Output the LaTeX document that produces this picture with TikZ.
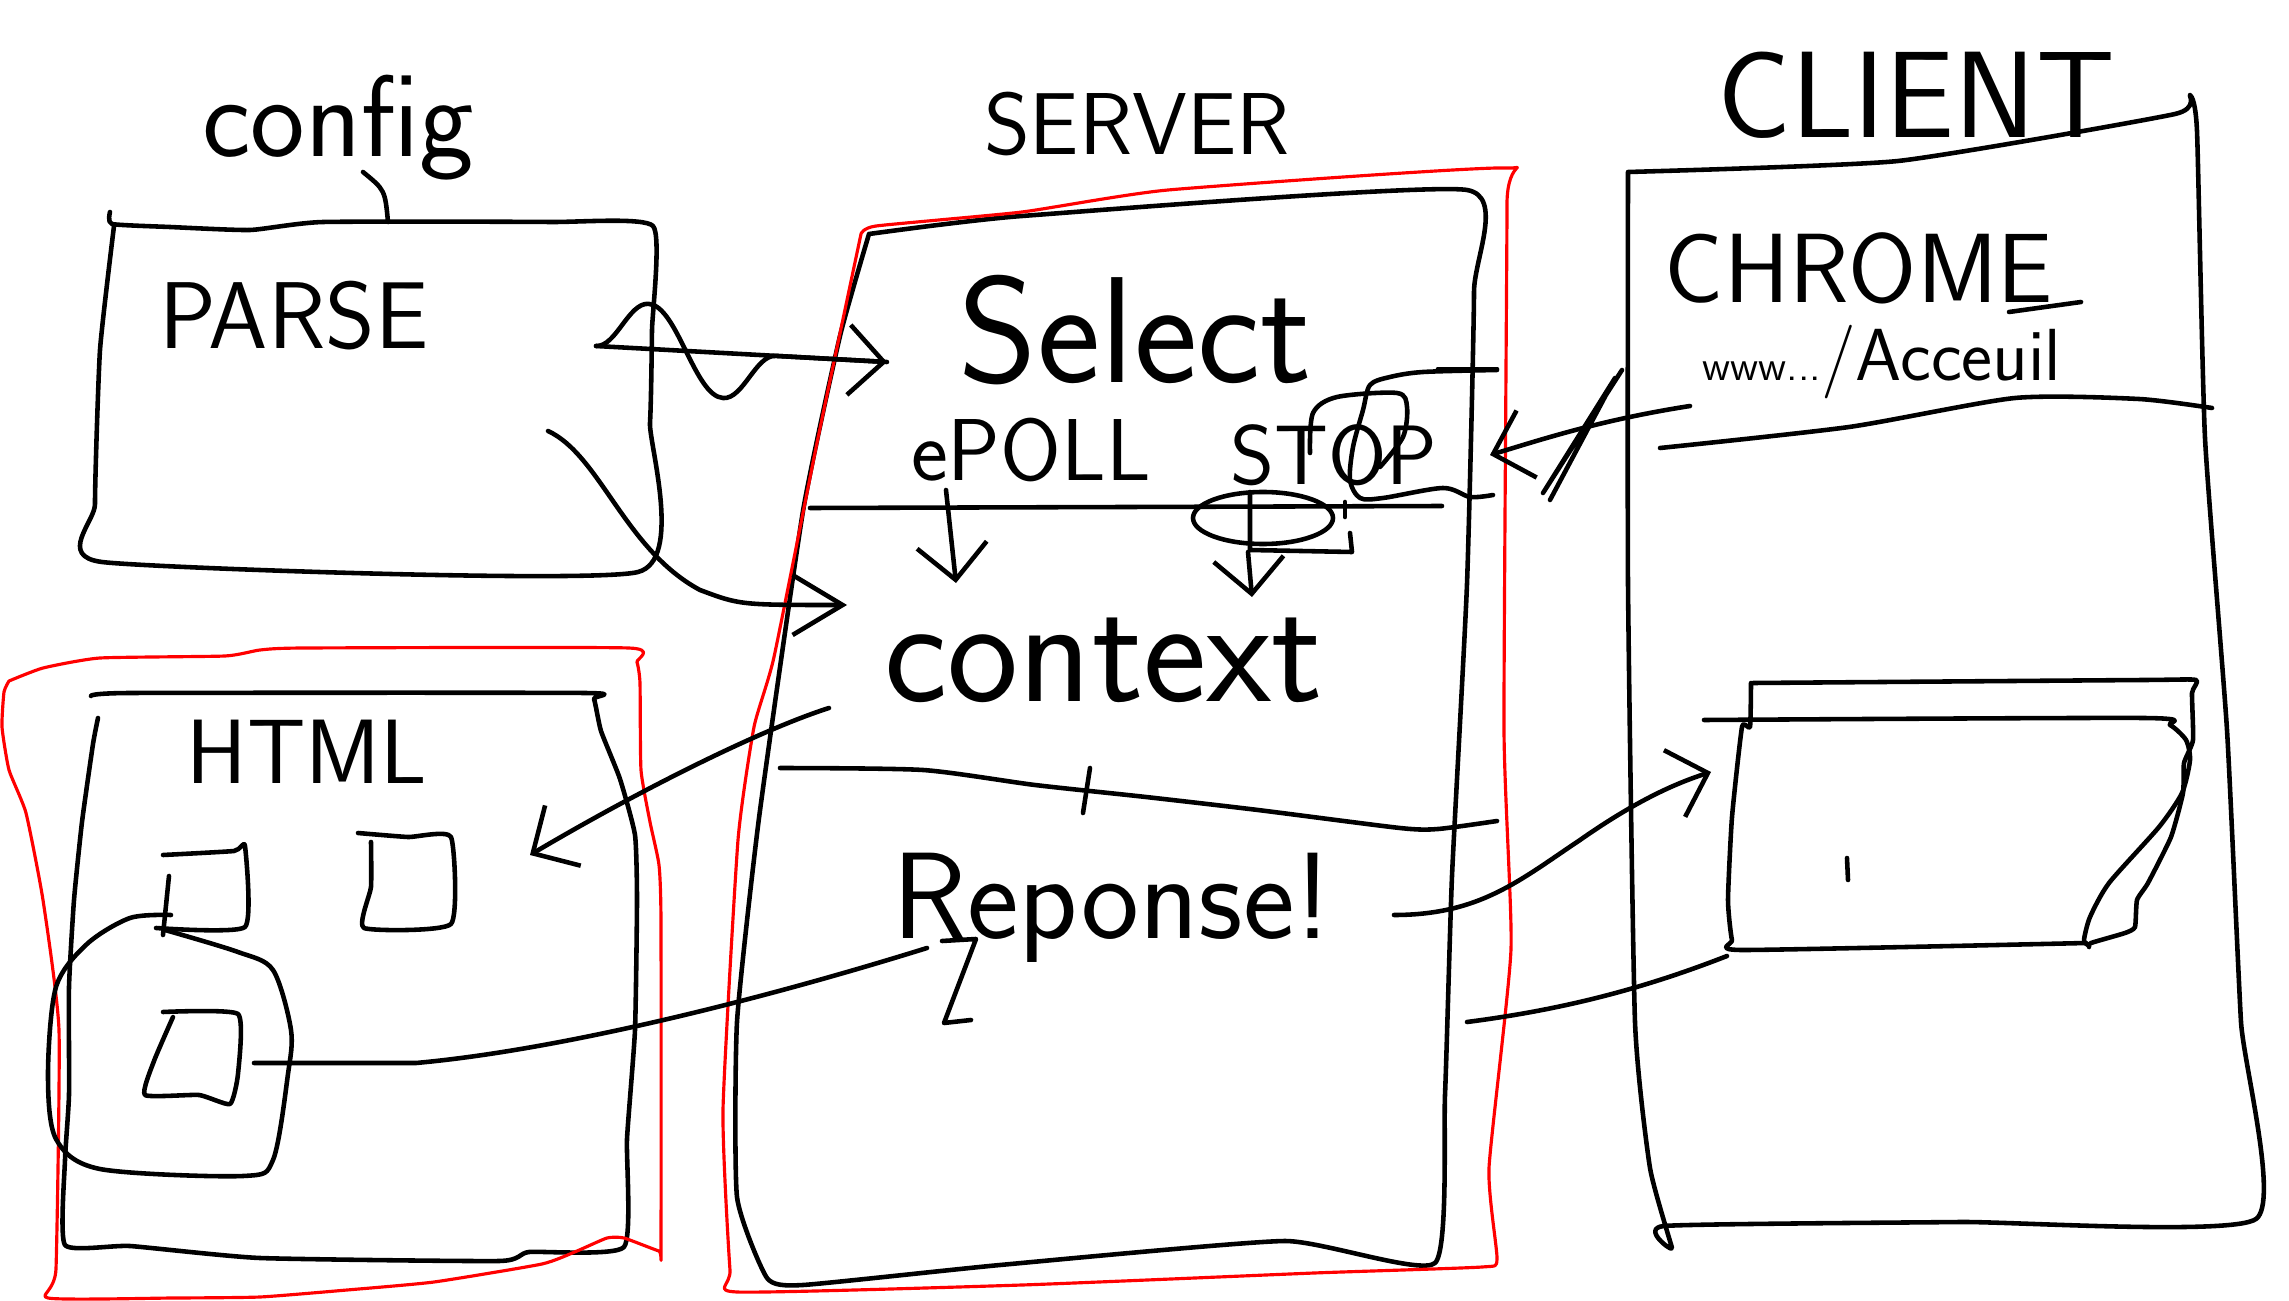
\documentclass[tikz,border=0pt]{standalone}
\usetikzlibrary{decorations.pathmorphing,arrows.meta}
\tikzset{>={Straight Barb[length=3.5mm,width=7mm]}}
\tikzset{pen/.style={black,line width=1.3pt,line cap=round,line join=round},
  redpen/.style={red,line width=0.9pt,line cap=round,line join=round},
  word/.style={inner sep=0pt,font=\sffamily\fontsize{#1}{#1}\selectfont}}

\begin{document}
\begin{tikzpicture}[x=0.1mm,y=-0.1mm]
            \useasboundingbox (0,0) rectangle (2289,1301);
            \node[word=33] (config) at (338,128) {config};
            \node[word=25] (server) at (1137,124) {SERVER};
            \node[word=35] (client) at (1916,95) {CLIENT};
            \node[word=27] (parse) at (294,316) {PARSE};
            \node[word=43] (select) at (1135,330) {Select};
            \node[word=25] (epoll) at (1031,450) {ePOLL};
            \node[word=24] (stop) at (1334,455) {STOP};
            \node[word=43] (context) at (1104,660) {context};
            \node[word=26] (html) at (307,752) {HTML};
            \node[word=35] (reponse) at (1112,908) {Reponse!};
            \node[word=28] (chrome) at (1859,268) {CHROME};
            \node[word=21] (accueil) at (1882,362) {{\fontsize{12}{12}\selectfont www...}/Acceuil};
            \draw[pen] plot[smooth,tension=0.3] coordinates {(110,212) (112,224) (170,227) (250,230) (323,222) (550,222) (653,226) (652,330) (650,423) (638,572) (102,562) (95,504) (100,350) (114,226)};
            \draw[pen] (363,172) .. controls (385,190) .. (388,222);
            \draw[pen] plot[smooth,tension=0.3] coordinates {(869,234) (1022,216) (1467,190) (1474,292) (1467,584) (1452,876) (1445,1095) (1435,1263) (1285,1241) (1000,1265) (803,1285) (767,1278) (737,1197) (737,1022) (759,818) (803,511) (840,336) (869,234)};
            \draw[redpen] plot[smooth,tension=0.3] coordinates {(861,234) (876,226) (1022,212) (1168,190) (1504,168) (1507,204) (1504,730) (1511,949) (1489,1168) (1497,1259) (1482,1267) (1314,1273) (1022,1285) (737,1292) (730,1270) (723,1110) (738,840) (754,727) (774,657) (818,438) (861,234)};
            \draw[pen] plot[smooth,tension=0.3] coordinates {(1628,172) (1898,161) (2175,114) (2190,95) (2197,131) (2205,438) (2227,730) (2241,1022) (2256,1219) (1960,1222) (1664,1226) (1672,1248) (1650,1168) (1635,1022) (1628,584) (1628,172)};
            \draw[pen] plot[smooth,tension=0.3] coordinates {(91,696) (130,693) (585,693) (594,699) (601,731) (620,779) (635,835) (637,900) (635,1030) (627,1139) (624,1247) (529,1252) (499,1261) (260,1258) (130,1246) (65,1245) (65,1160) (69,1095) (69,987) (74,900) (82,822) (93,744) (98,718)};
            \draw[redpen] plot[smooth,tension=0.3] coordinates {(9,681) (43,668) (100,658) (225,656) (260,650) (304,648) (629,648) (637,662) (640,683) (641,770) (650,822) (659,865) (661,922) (661,1247) (659,1251) (624,1238) (607,1238) (577,1251) (542,1264) (434,1282) (347,1290) (260,1297) (173,1298) (48,1298) (56,1269) (59,1030) (43,900) (26,813) (9,770) (2,727) (4,692) (9,681)};
            \draw[pen] plot[smooth,tension=0.3] coordinates {(163,855) (234,851) (245,846) (245,927) (156,928)};
            \draw[pen] (169,876) -- (163,935);
            \draw[pen] plot[smooth,tension=0.3] coordinates {(358,833) (408,837) (451,837) (451,924) (364,928) (371,887) (371,842)};
            \draw[pen] plot[smooth,tension=0.3] coordinates {(163,1012) (238,1014) (238,1074) (230,1104) (199,1095) (145,1095) (154,1061) (173,1017)};
            \draw[pen] plot[smooth,tension=0.5] coordinates {(171,915) (130,918) (87,944) (56,987) (48,1074) (56,1139) (100,1169) (243,1176) (273,1160) (288,1074) (291,1030) (273,970) (238,952) (165,930)};
            \draw[pen] (810,508) -- (1442,506);
            \draw[pen] plot[smooth,tension=0.4] coordinates {(780,768) (923,770) (1035,785) (1146,797) (1258,810) (1400,828) (1438,829) (1497,821)};
            \draw[pen] (1090,768) -- (1083,813);
            \draw[pen] (1438,369) -- (1497,369);
            \draw[pen] plot[smooth,tension=0.5] coordinates {(1497,370) (1423,372) (1390,377) (1370,385) (1363,410) (1353,447) (1350,480) (1360,498) (1383,498) (1443,488) (1470,497) (1493,495)};
            \draw[pen] plot[smooth,tension=0.5] coordinates {(1310,453) (1313,413) (1337,397) (1397,393) (1407,407) (1403,437) (1380,467)};
            \draw[pen] (1263,518) ellipse (7mm and 2.6mm);
            \draw[pen] (1250,492) -- (1250,550) -- (1352,552) -- (1350,533);
            \draw[pen] (1345,502) -- (1345,517);
            \draw[pen] plot[smooth,tension=0.4] coordinates {(1660,448) (1849,427) (2015,398) (2139,399) (2212,408)};
            \draw[pen] (2009,312) -- (2081,302);
            \draw[pen] plot[smooth,tension=0.3] coordinates {(1753,683) (2144,680) (2196,680) (2192,693) (2193,740) (2184,763) (2183,793) (2171,837) (2148,883) (2137,900) (2135,927) (2125,933) (2091,943) (2089,947)};
            \draw[pen] plot[smooth,tension=0.4] coordinates {(1704,720) (2144,718) (2170,725) (2186,740) (2190,760) (2182,793) (2159,827) (2109,883) (2090,917) (2084,940) (2088,945)};
            \draw[pen] plot[smooth,tension=0.3] coordinates {(1751,683) (1750,727) (1742,727) (1732,817) (1728,900) (1732,940) (1742,950) (2086,943)};
            \draw[pen] (1847,858) -- (1848,880);
            \draw[pen] (1622,370) -- (1543,493) -- (1615,378) -- (1550,500);
            \coordinate (cfgwave) at (596,346);
            \coordinate (selin) at (887,362);
            \coordinate (cfgcurve) at (548,431);
            \coordinate (ctxin) at (847,605);
            \coordinate (pollout) at (946,490);
            \coordinate (pollin) at (956,583);
            \coordinate (stopout) at (1248,552);
            \coordinate (stopin) at (1252,597);
            \coordinate (ctxout) at (829,708);
            \coordinate (htmlin) at (530,855);
            \coordinate (repout) at (1394,915);
            \coordinate (cliin) at (1711,772);
            \coordinate (screenout) at (1727,956);
            \coordinate (srvback) at (1467,1022);
            \coordinate (cliout) at (1690,406);
            \coordinate (srvin) at (1490,455);
            \coordinate (sqout) at (254,1063);
            \coordinate (repin) at (927,948);
            \draw[pen] (cfgwave) -- (selin);
            \draw[pen,->,decorate,decoration={snake,amplitude=4.5mm,segment length=16mm,post length=4mm}] (cfgwave) -- (selin);
            \draw[pen,->,>={Straight Barb[length=5mm,width=6mm]}] (cfgcurve) .. controls (600,455) and (625,550) .. (700,590) .. controls (740,605) .. (ctxin);
            \draw[pen,->] (pollout) -- (pollin);
            \draw[pen,->] (stopout) -- (stopin);
            \draw[pen,->] (ctxout) .. controls (760,730) and (640,790) .. (htmlin);
            \draw[pen,->] (repout) .. controls (1480,915) and (1520,880) .. (1580,840) .. controls (1630,805) and (1670,785) .. (cliin);
            \draw[pen] (screenout) .. controls (1640,990) and (1560,1010) .. (srvback);
            \draw[pen,->] (cliout) .. controls (1600,420) and (1540,440) .. (srvin);
            \draw[pen] (sqout) -- (416,1063) .. controls (560,1050) and (760,1000) .. (repin);
            \draw[pen] (942,941) -- (976,939) -- (944,1023) -- (971,1020);
        \end{tikzpicture}
\end{document}
